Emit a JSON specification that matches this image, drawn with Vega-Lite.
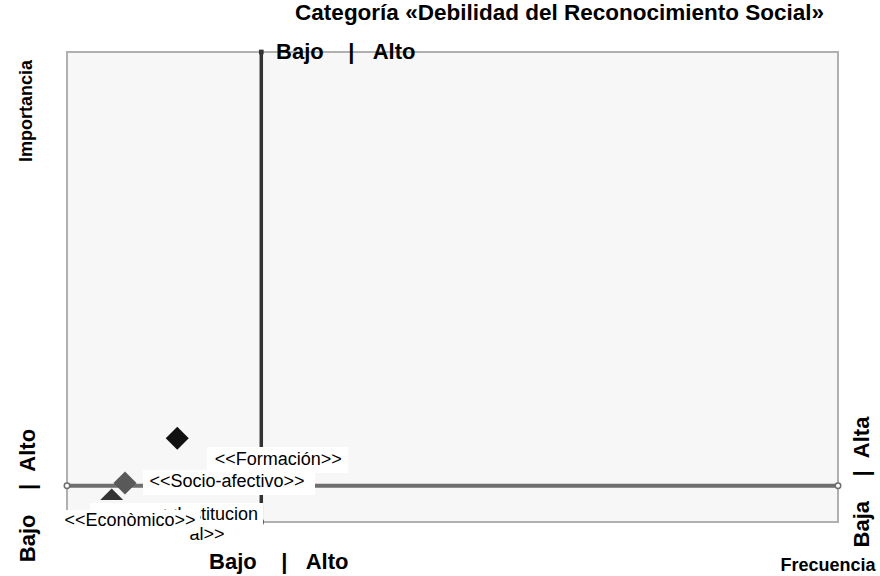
{
  "$schema": "https://vega.github.io/schema/vega-lite/v6.json",
  "width": 771,
  "height": 470,
  "autosize": {"type": "none"},
  "padding": {"left": 67, "top": 52, "right": 42, "bottom": 54},
  "background": "#ffffff",
  "title": {
    "text": "Categoría «Debilidad del Reconocimiento Social»",
    "anchor": "end",
    "frame": "group",
    "dx": -14,
    "offset": -6,
    "baseline": "bottom",
    "fontSize": 22.5,
    "fontWeight": "bold",
    "color": "#000000"
  },
  "config": {
    "font": "Liberation Sans",
    "locale": {"number": {"decimal": ",", "thousands": ".", "grouping": [3], "currency": ["", " €"]}},
    "view": {"stroke": "#b0b0b0", "strokeWidth": 2, "fill": "#f7f7f7"}
  },
  "datasets": {
    "points": [
      {"name": "Formación", "label": "<<Formación>>", "x": 0.143, "y": 0.178},
      {"name": "Socio-afectivo", "label": "<<Socio-afectivo>>", "x": 0.0752, "y": 0.083},
      {"name": "Institucional", "label": "<<Institucion\nal>>", "x": 0.045, "y": 0.016},
      {"name": "Económico", "label": "<<Econòmico>>", "x": 0.058, "y": 0.059}
    ],
    "refs": [
      {"line": "vertical", "x": 0.252, "y": 0},
      {"line": "vertical", "x": 0.252, "y": 1},
      {"line": "horizontal", "x": 0, "y": 0.0772},
      {"line": "horizontal", "x": 1, "y": 0.0772}
    ],
    "notes": [
      {"where": "top", "label": "Bajo\u00a0\u00a0\u00a0\u00a0|\u00a0\u00a0\u00a0Alto"},
      {"where": "bottom", "label": "Bajo\u00a0\u00a0\u00a0\u00a0|\u00a0\u00a0\u00a0Alto"},
      {"where": "left", "label": "Bajo\u00a0\u00a0\u00a0\u00a0|\u00a0\u00a0Alto"},
      {"where": "right", "label": "Baja\u00a0\u00a0\u00a0\u00a0|\u00a0\u00a0Alta"},
      {"where": "ytitle", "label": "Importancia"},
      {"where": "xtitle", "label": "Frecuencia"}
    ]
  },
  "layer": [
    {
      "data": {"name": "refs"},
      "transform": [{"filter": "datum.line === 'vertical'"}],
      "mark": {"type": "line", "color": "#333333", "strokeWidth": 3.5},
      "encoding": {
        "x": {
          "field": "x", "type": "quantitative", "scale": {"domain": [0, 1], "nice": false},
          "axis": {
            "values": [0, 0.1, 0.2, 0.3, 0.4, 0.5, 0.6, 0.7, 0.8, 0.9, 1],
            "format": ".1%",
            "labelFontSize": 17, "labelColor": "#000000", "labelPadding": 3,
            "labelFlush": false, "labelOverlap": false,
            "tickSize": 5, "tickColor": "#000000", "domainColor": "#000000",
            "grid": false,
            "title": null
          }
        },
        "y": {
          "field": "y", "type": "quantitative", "scale": {"domain": [0, 1], "nice": false},
          "axis": {
            "values": [0, 0.1, 0.2, 0.3, 0.4, 0.5, 0.6, 0.7, 0.8, 0.9, 1],
            "format": ".0%",
            "labelFontSize": 17, "labelColor": "#000000", "labelPadding": 6,
            "labelFlush": false, "labelOverlap": false,
            "tickSize": 5, "tickColor": "#000000", "domainColor": "#000000",
            "grid": true, "gridColor": "#555555", "gridDash": [3, 2],
            "title": null
          }
        }
      }
    },
    {
      "data": {"name": "refs"},
      "transform": [{"filter": "datum.line === 'vertical'"}],
      "mark": {"type": "point", "filled": true, "shape": "square", "size": 22, "color": "#333333", "opacity": 1},
      "encoding": {
        "x": {"field": "x", "type": "quantitative", "scale": {"domain": [0, 1], "nice": false}, "axis": null},
        "y": {"field": "y", "type": "quantitative", "scale": {"domain": [0, 1], "nice": false}, "axis": null}
      }
    },
    {
      "data": {"name": "refs"},
      "transform": [{"filter": "datum.line === 'horizontal'"}],
      "mark": {"type": "line", "color": "#6e6e6e", "strokeWidth": 4},
      "encoding": {
        "x": {"field": "x", "type": "quantitative", "scale": {"domain": [0, 1], "nice": false}, "axis": null},
        "y": {"field": "y", "type": "quantitative", "scale": {"domain": [0, 1], "nice": false}, "axis": null}
      }
    },
    {
      "data": {"name": "refs"},
      "transform": [{"filter": "datum.line === 'horizontal'"}],
      "mark": {"type": "point", "filled": true, "fill": "#ffffff", "stroke": "#6e6e6e", "strokeWidth": 1.5, "size": 30, "opacity": 1},
      "encoding": {
        "x": {"field": "x", "type": "quantitative", "scale": {"domain": [0, 1], "nice": false}, "axis": null},
        "y": {"field": "y", "type": "quantitative", "scale": {"domain": [0, 1], "nice": false}, "axis": null}
      }
    },
    {
      "data": {"name": "points"},
      "mark": {"type": "point", "filled": true, "opacity": 1, "size": 530},
      "encoding": {
        "x": {"field": "x", "type": "quantitative", "scale": {"domain": [0, 1], "nice": false}, "axis": null},
        "y": {"field": "y", "type": "quantitative", "scale": {"domain": [0, 1], "nice": false}, "axis": null},
        "shape": {"field": "name", "type": "nominal", "legend": null,
          "scale": {"domain": ["Formación", "Socio-afectivo", "Institucional", "Económico"], "range": ["diamond", "diamond", "square", "M0,-0.5L1,0.5L-1,0.5Z"]}},
        "color": {"field": "name", "type": "nominal", "legend": null,
          "scale": {"domain": ["Formación", "Socio-afectivo", "Institucional", "Económico"], "range": ["#111111", "#595959", "#808080", "#333333"]}}
      }
    },
    {
      "data": {"name": "points"},
      "transform": [{"filter": "datum.name === 'Formación'"}],
      "mark": {"type": "point", "shape": "M-1,-0.1844L1,-0.1844L1,0.1844L-1,0.1844Z", "size": 19881, "filled": true, "color": "#ffffff", "opacity": 1, "strokeWidth": 0, "xOffset": 100.3, "yOffset": 21.7},
      "encoding": {
        "x": {"field": "x", "type": "quantitative", "scale": {"domain": [0, 1], "nice": false}, "axis": null},
        "y": {"field": "y", "type": "quantitative", "scale": {"domain": [0, 1], "nice": false}, "axis": null}
      }
    },
    {
      "data": {"name": "points"},
      "transform": [{"filter": "datum.name === 'Formación'"}],
      "mark": {"type": "text", "fontSize": 18, "color": "#000000", "align": "center", "baseline": "middle", "dx": 101, "dy": 22},
      "encoding": {
        "x": {"field": "x", "type": "quantitative", "scale": {"domain": [0, 1], "nice": false}, "axis": null},
        "y": {"field": "y", "type": "quantitative", "scale": {"domain": [0, 1], "nice": false}, "axis": null},
        "text": {"field": "label"}
      }
    },
    {
      "data": {"name": "points"},
      "transform": [{"filter": "datum.name === 'Socio-afectivo'"}],
      "mark": {"type": "point", "shape": "M-1,-0.1453L1,-0.1453L1,0.1453L-1,0.1453Z", "size": 29584, "filled": true, "color": "#ffffff", "opacity": 1, "strokeWidth": 0, "xOffset": 104, "yOffset": -0.5},
      "encoding": {
        "x": {"field": "x", "type": "quantitative", "scale": {"domain": [0, 1], "nice": false}, "axis": null},
        "y": {"field": "y", "type": "quantitative", "scale": {"domain": [0, 1], "nice": false}, "axis": null}
      }
    },
    {
      "data": {"name": "points"},
      "transform": [{"filter": "datum.name === 'Socio-afectivo'"}],
      "mark": {"type": "text", "fontSize": 18, "color": "#000000", "align": "center", "baseline": "middle", "dx": 102, "dy": -1},
      "encoding": {
        "x": {"field": "x", "type": "quantitative", "scale": {"domain": [0, 1], "nice": false}, "axis": null},
        "y": {"field": "y", "type": "quantitative", "scale": {"domain": [0, 1], "nice": false}, "axis": null},
        "text": {"field": "label"}
      }
    },
    {
      "data": {"name": "points"},
      "transform": [{"filter": "datum.name === 'Institucional'"}],
      "mark": {"type": "point", "shape": "M-1,-0.156L1,-0.156L1,0.156L-1,0.156Z", "size": 29929, "filled": true, "color": "#ffffff", "opacity": 1, "strokeWidth": 0, "xOffset": 74.8, "yOffset": 2},
      "encoding": {
        "x": {"field": "x", "type": "quantitative", "scale": {"domain": [0, 1], "nice": false}, "axis": null},
        "y": {"field": "y", "type": "quantitative", "scale": {"domain": [0, 1], "nice": false}, "axis": null}
      }
    },
    {
      "data": {"name": "points"},
      "transform": [{"filter": "datum.name === 'Institucional'"}],
      "mark": {"type": "text", "fontSize": 18, "color": "#000000", "align": "center", "baseline": "middle", "lineBreak": "\n", "lineHeight": 20, "dx": 105.3, "dy": 1},
      "encoding": {
        "x": {"field": "x", "type": "quantitative", "scale": {"domain": [0, 1], "nice": false}, "axis": null},
        "y": {"field": "y", "type": "quantitative", "scale": {"domain": [0, 1], "nice": false}, "axis": null},
        "text": {"field": "label"}
      }
    },
    {
      "data": {"name": "points"},
      "transform": [{"filter": "datum.name === 'Económico'"}],
      "mark": {"type": "point", "shape": "M-1,-0.1643L1,-0.1643L1,0.1643L-1,0.1643Z", "size": 19600, "filled": true, "color": "#ffffff", "opacity": 1, "strokeWidth": 0, "xOffset": 18.3, "yOffset": 27.2},
      "encoding": {
        "x": {"field": "x", "type": "quantitative", "scale": {"domain": [0, 1], "nice": false}, "axis": null},
        "y": {"field": "y", "type": "quantitative", "scale": {"domain": [0, 1], "nice": false}, "axis": null}
      }
    },
    {
      "data": {"name": "points"},
      "transform": [{"filter": "datum.name === 'Económico'"}],
      "mark": {"type": "text", "fontSize": 18, "color": "#000000", "align": "center", "baseline": "middle", "dx": 18.3, "dy": 26.7},
      "encoding": {
        "x": {"field": "x", "type": "quantitative", "scale": {"domain": [0, 1], "nice": false}, "axis": null},
        "y": {"field": "y", "type": "quantitative", "scale": {"domain": [0, 1], "nice": false}, "axis": null},
        "text": {"field": "label"}
      }
    },
    {
      "data": {"name": "notes"},
      "transform": [{"filter": "datum.where === 'top'"}],
      "mark": {"type": "text", "fontSize": 22, "fontWeight": "bold", "color": "#000000", "align": "center", "baseline": "middle"},
      "encoding": {
        "x": {"datum": 0.3615, "type": "quantitative", "scale": {"domain": [0, 1], "nice": false}, "axis": null},
        "y": {"datum": 1.0, "type": "quantitative", "scale": {"domain": [0, 1], "nice": false}, "axis": null},
        "text": {"field": "label"}
      }
    },
    {
      "data": {"name": "notes"},
      "transform": [{"filter": "datum.where === 'bottom'"}],
      "mark": {"type": "text", "fontSize": 22, "fontWeight": "bold", "color": "#000000", "align": "center", "baseline": "middle"},
      "encoding": {
        "x": {"datum": 0.2746, "type": "quantitative", "scale": {"domain": [0, 1], "nice": false}, "axis": null},
        "y": {"datum": -0.0851, "type": "quantitative", "scale": {"domain": [0, 1], "nice": false}, "axis": null},
        "text": {"field": "label"}
      }
    },
    {
      "data": {"name": "notes"},
      "transform": [{"filter": "datum.where === 'left'"}],
      "mark": {"type": "text", "fontSize": 22, "fontWeight": "bold", "color": "#000000", "align": "center", "baseline": "middle", "angle": 270},
      "encoding": {
        "x": {"datum": -0.0506, "type": "quantitative", "scale": {"domain": [0, 1], "nice": false}, "axis": null},
        "y": {"datum": 0.0564, "type": "quantitative", "scale": {"domain": [0, 1], "nice": false}, "axis": null},
        "text": {"field": "label"}
      }
    },
    {
      "data": {"name": "notes"},
      "transform": [{"filter": "datum.where === 'right'"}],
      "mark": {"type": "text", "fontSize": 22, "fontWeight": "bold", "color": "#000000", "align": "center", "baseline": "middle", "angle": 270},
      "encoding": {
        "x": {"datum": 1.0311, "type": "quantitative", "scale": {"domain": [0, 1], "nice": false}, "axis": null},
        "y": {"datum": 0.0851, "type": "quantitative", "scale": {"domain": [0, 1], "nice": false}, "axis": null},
        "text": {"field": "label"}
      }
    },
    {
      "data": {"name": "notes"},
      "transform": [{"filter": "datum.where === 'ytitle'"}],
      "mark": {"type": "text", "fontSize": 18, "fontWeight": "bold", "color": "#000000", "align": "center", "baseline": "middle", "angle": 270},
      "encoding": {
        "x": {"datum": -0.0519, "type": "quantitative", "scale": {"domain": [0, 1], "nice": false}, "axis": null},
        "y": {"datum": 0.8745, "type": "quantitative", "scale": {"domain": [0, 1], "nice": false}, "axis": null},
        "text": {"field": "label"}
      }
    },
    {
      "data": {"name": "notes"},
      "transform": [{"filter": "datum.where === 'xtitle'"}],
      "mark": {"type": "text", "fontSize": 18, "fontWeight": "bold", "color": "#000000", "align": "center", "baseline": "middle"},
      "encoding": {
        "x": {"datum": 0.987, "type": "quantitative", "scale": {"domain": [0, 1], "nice": false}, "axis": null},
        "y": {"datum": -0.0936, "type": "quantitative", "scale": {"domain": [0, 1], "nice": false}, "axis": null},
        "text": {"field": "label"}
      }
    }
  ]
}
